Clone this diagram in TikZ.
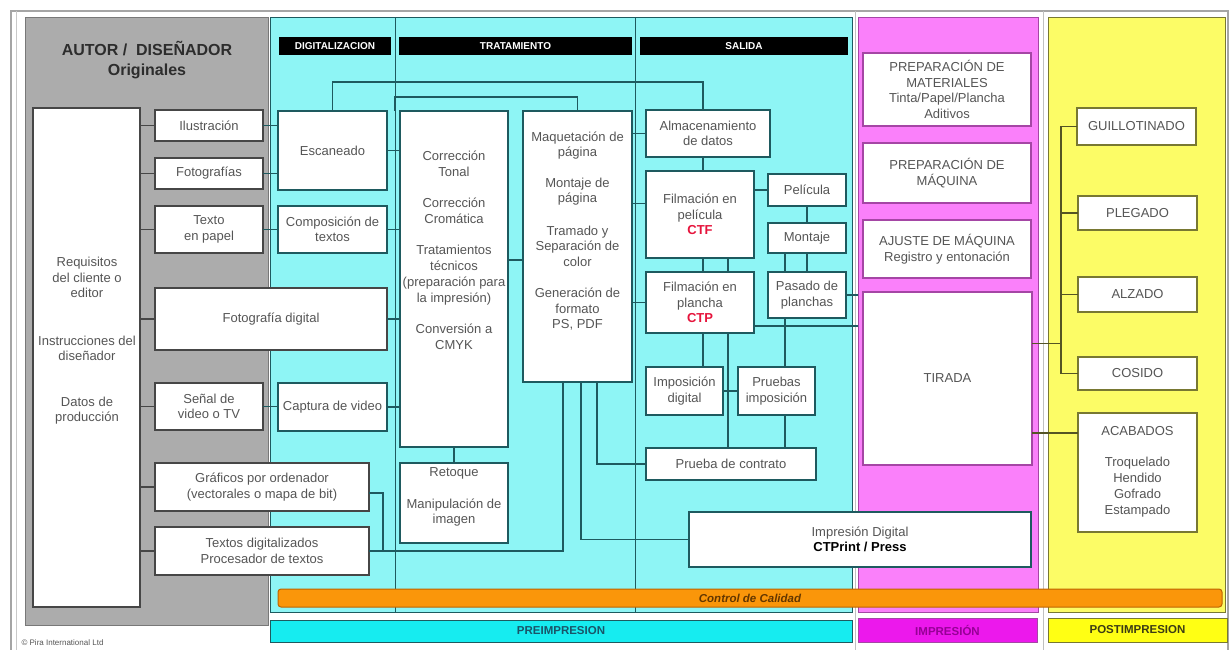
\documentclass[tikz,border=0pt]{standalone}
\usepackage{fontspec}
\setmainfont{Liberation Sans}
\usetikzlibrary{calc}

\definecolor{grayP}{RGB}{172,172,172}
\definecolor{grayB}{RGB}{120,120,120}
\definecolor{cyanP}{RGB}{142,245,245}
\definecolor{cyanB}{RGB}{22,236,240}
\definecolor{cyanT}{RGB}{25,85,105}
\definecolor{magP}{RGB}{250,128,250}
\definecolor{magB}{RGB}{236,24,236}
\definecolor{magL}{RGB}{165,70,165}
\definecolor{magT}{RGB}{150,0,150}
\definecolor{yelP}{RGB}{252,252,102}
\definecolor{yelB}{RGB}{255,255,20}
\definecolor{yelL}{RGB}{120,120,50}
\definecolor{yelT}{RGB}{60,60,20}
\definecolor{orgB}{RGB}{250,150,10}
\definecolor{orgL}{RGB}{190,100,0}
\definecolor{orgT}{RGB}{100,55,0}
\definecolor{lineC}{RGB}{30,90,95}
\definecolor{lineG}{RGB}{70,70,70}
\definecolor{txt}{RGB}{85,85,85}
\definecolor{titleC}{RGB}{45,45,45}
\definecolor{ctred}{RGB}{230,20,60}
\definecolor{frameC}{RGB}{165,165,165}

% box given by its two corners: style, x1, y1, x2, y2, name
\newcommand\boxat[6]{\node[#1,minimum width={#4-#2},minimum height={#5-#3}] (#6) at ({(#2+#4)/2},{(#3+#5)/2})}

\begin{document}
\begin{tikzpicture}[x=1pt,y=-1pt,
  tx/.style={font=\fontsize{13}{15.5}\selectfont,text=txt,align=center},
  txw/.style={font=\fontsize{13}{16}\selectfont,text=txt,align=center},
  box/.style={tx,draw,fill=white,line width=1.1pt,inner sep=0pt,outer sep=0pt},
  gbox/.style={box,draw=lineG},
  cbox/.style={box,draw=lineC},
  mbox/.style={box,draw=magL},
  ybox/.style={box,draw=yelL},
  panel/.style={draw,line width=1pt,inner sep=0pt,outer sep=0pt},
  hdr/.style={fill=black,text=white,inner sep=0pt,font=\fontsize{10}{12}\selectfont\bfseries},
  tag/.style={draw,line width=1pt,inner sep=0pt,font=\fontsize{11.5}{13}\selectfont\bfseries},
  cc/.style={draw=lineC,line width=1.1pt},
  gc/.style={draw=lineG,line width=1.1pt},
  yc/.style={draw=yelL!70!black,line width=1.1pt}
]
\useasboundingbox (0,0) rectangle (1229,650);
\fill[white] (0,0) rectangle (1229,650);

% outer frame and column rules
\draw[frameC,line width=1.2pt] (11,11) rectangle (1228,660);
\draw[frameC!60,line width=0.8pt] (16,11) -- (16,650);
\draw[frameC!70,line width=0.8pt] (855,11) -- (855,650);
\draw[frameC!70,line width=0.8pt] (1043,11) -- (1043,650);

% stage panels
\boxat{panel,draw=grayB,fill=grayP}{25}{18}{268}{625}{pG}{};
\boxat{panel,draw=lineC,fill=cyanP}{270}{18}{852}{612}{pC}{};
\boxat{panel,draw=magL,fill=magP}{858}{18}{1038}{612}{pM}{};
\boxat{panel,draw=yelL,fill=yelP}{1048}{18}{1225}{612}{pY}{};

% column rules inside the prepress panel
\draw[lineC,line width=0.6pt] (395,18) -- (395,612);
\draw[lineC,line width=0.6pt] (635,18) -- (635,612);

% title of the first column
\node[font=\fontsize{16}{20}\selectfont\bfseries,text=titleC,align=center] (title) at (147,60) {AUTOR /\ \ DISEÑADOR\\Originales};

% black column headers
\boxat{hdr}{279}{37}{391}{55}{hdig}{DIGITALIZACION};
\boxat{hdr}{399}{37}{632}{55}{htra}{TRATAMIENTO};
\boxat{hdr}{640}{37}{848}{55}{hsal}{SALIDA};

% originals
\boxat{gbox,line width=1.4pt}{33}{108}{140}{607}{req}{};
\node[tx] (reqtxt) at (87,341) {Requisitos\\del cliente o\\editor\\[32pt]Instrucciones del\\diseñador\\[30pt]Datos de\\producción};
\boxat{gbox}{155}{110}{263}{141}{ilus}{Ilustración};
\boxat{gbox}{155}{158}{263}{189}{foto}{Fotografías};
\boxat{gbox}{155}{206}{263}{253}{texto}{Texto\\en papel};
\boxat{gbox}{155}{288}{387}{350}{fdig}{Fotografía digital};
\boxat{gbox}{155}{383}{263}{430}{senal}{Señal de\\video o TV};
\boxat{gbox}{155}{463}{369}{511}{graf}{Gráficos por ordenador\\(vectorales o mapa de bit)};
\boxat{gbox}{155}{527}{369}{575}{tdig}{Textos digitalizados\\Procesador de textos};

% digitisation
\boxat{cbox}{278}{111}{387}{190}{esc}{Escaneado};
\boxat{cbox}{278}{206}{387}{253}{comp}{Composición de\\textos};
\boxat{cbox}{278}{383}{387}{431}{capt}{Captura de video};

% treatment
\boxat{cbox}{400}{111}{508}{447}{corr}{};
\node[txw] (corrtxt) at (454,250) {Corrección\\Tonal\\[15pt]Corrección\\Cromática\\[15pt]Tratamientos\\técnicos\\(preparación para\\la impresión)\\[15pt]Conversión a\\CMYK};
\boxat{cbox}{400}{463}{508}{543}{ret}{};
\node[tx] (rettxt) at (454,497) {Retoque\\[16pt]Manipulación de\\imagen};
\boxat{cbox}{523}{111}{632}{382}{maq}{};
\node[tx] (maqtxt) at (577.5,231) {Maquetación de\\página\\[15pt]Montaje de\\página\\[17pt]Tramado y\\Separación de\\color\\[16pt]Generación de\\formato\\PS, PDF};

% output
\boxat{cbox}{646}{110}{770}{157}{alm}{Almacenamiento\\de datos};
\boxat{cbox}{646}{171}{754}{258}{fpel}{Filmación en\\película\\{\color{ctred}\bfseries CTF}};
\boxat{cbox}{768}{174}{846}{206}{pel}{Película};
\boxat{cbox}{768}{223}{846}{253}{mont}{Montaje};
\boxat{cbox}{646}{272}{754}{333}{fpla}{Filmación en\\plancha\\{\color{ctred}\bfseries CTP}};
\boxat{cbox}{768}{272}{846}{318}{pas}{Pasado de\\planchas};
\boxat{cbox}{646}{367}{723}{415}{impd}{Imposición\\digital};
\boxat{cbox}{738}{367}{815}{415}{pimp}{Pruebas\\imposición};
\boxat{cbox}{646}{448}{816}{480}{pcon}{Prueba de contrato};
\boxat{cbox}{689}{512}{1031}{567}{idig}{Impresión Digital\\{\color{black}\bfseries CTPrint / Press}};

% printing
\boxat{mbox}{863}{53}{1031}{126}{pmat}{PREPARACIÓN DE\\MATERIALES\\Tinta/Papel/Plancha\\Aditivos};
\boxat{mbox}{863}{143}{1031}{203}{pmaq}{PREPARACIÓN DE\\MÁQUINA};
\boxat{mbox}{863}{220}{1031}{278}{ajus}{AJUSTE DE MÁQUINA\\Registro y entonación};
\boxat{mbox}{863}{292}{1032}{465}{tir}{TIRADA};

% finishing
\boxat{ybox}{1077}{108}{1196}{145}{gui}{GUILLOTINADO};
\boxat{ybox}{1078}{196}{1197}{230}{ple}{PLEGADO};
\boxat{ybox}{1078}{277}{1197}{312}{alz}{ALZADO};
\boxat{ybox}{1078}{357}{1197}{390}{cos}{COSIDO};
\boxat{ybox}{1078}{413}{1197}{532}{aca}{};
\node[txw] (acatxt) at (1137.5,471.5) {ACABADOS\\[15pt]Troquelado\\Hendido\\Gofrado\\Estampado};

% quality control band and stage labels
\boxat{tag,draw=orgL,fill=orgB,text=orgT,rounded corners=3pt,font=\fontsize{11.5}{13}\selectfont\bfseries\itshape}{278}{589}{1222}{607}{cal}{Control de Calidad};
\boxat{tag,draw=lineC,fill=cyanB,text=cyanT}{270}{620}{852}{642}{bpre}{PREIMPRESION};
\boxat{tag,draw=magL,fill=magB,text=magT}{858}{618}{1037}{642}{bimp}{IMPRESIÓN};
\boxat{tag,draw=yelL,fill=yelB,text=yelT}{1048}{618}{1227}{642}{bpost}{POSTIMPRESION};

\node[font=\fontsize{8}{9}\selectfont,text=txt,anchor=west] (copy) at (18,643) {© Pira International Ltd};

% connectors: originals
\foreach \b in {ilus,foto,texto,fdig,senal,graf,tdig}
  \draw[gc] (\b.west) -- (req.east |- \b.west);

% connectors: originals to digitisation and treatment
\draw[cc] (ilus.east) -- (esc.west |- ilus.east);
\draw[cc] (foto.east) -- (esc.west |- foto.east);
\draw[cc] (texto.east) -- (comp.west |- texto.east);
\draw[cc] (senal.east) -- (capt.west |- senal.east);
\draw[cc] (esc.east) -- (corr.west |- esc.east);
\draw[cc] (comp.east) -- (corr.west |- comp.east);
\draw[cc] (fdig.east) -- (corr.west |- fdig.east);
\draw[cc] (capt.east) -- (corr.west |- capt.east);
\draw[cc] (corr.south) -- (ret.north);
\coordinate (c1) at ([yshift=19pt]corr.east);
\draw[cc] (c1) -- (maq.west |- c1);

% top runs
\draw[cc] (esc.north) -- ++(0,-29) -| ([xshift=-5pt]alm.north);
\draw[cc] (maq.north) -- ++(0,-14) -| ([xshift=-5pt]corr.north west);

% layout to output
\draw[cc] (alm.west) -- (maq.east |- alm.west);
\coordinate (c2) at ([yshift=11pt]fpel.west);
\draw[cc] (c2) -- (maq.east |- c2);
\draw[cc] (fpla.west) -- (maq.east |- fpla.west);
\draw[cc] (tdig.east) -| ([xshift=-14.5pt]maq.south);
\draw[cc] ([yshift=-6pt]graf.east) -| ([xshift=14pt]tdig.east);
\draw[cc] ([xshift=3.5pt]maq.south) |- (idig.west);
\draw[cc] ([xshift=19.5pt]maq.south) |- (pcon.west);

% output column
\coordinate (a1) at ([xshift=-5pt]alm.south);
\draw[cc] (a1) -- (a1 |- fpel.north);
\draw[cc] (pel.west) -- (fpel.east |- pel.west);
\draw[cc] (pel.south) -- (mont.north);
\coordinate (a2) at ([xshift=3pt]fpel.south);
\coordinate (a3) at ([xshift=28pt]fpel.south);
\draw[cc] (a2) -- (a2 |- fpla.north);
\draw[cc] (a3) -- (a3 |- fpla.north);
\coordinate (a4) at ([xshift=-22pt]mont.south);
\draw[cc] (a4) -- (a4 |- pas.north);
\draw[cc] (mont.south) -- (pas.north);
\draw[cc] (pas.east) -- (pas.east -| pM.west);
\coordinate (a5) at ([yshift=-23.5pt]fpla.east);
\draw[cc] (a5) -- (a5 -| pM.west);
\coordinate (a6) at ([xshift=3pt]fpla.south);
\draw[cc] (a6) -- (a6 |- impd.north);
\coordinate (a7) at ([xshift=28pt]fpla.south);
\draw[cc] (a7) -- (a7 |- pcon.north);
\draw[cc] (impd.east) -- (pimp.west);
\coordinate (a8) at ([xshift=-22pt]pas.south);
\draw[cc] (a8) -- (a8 |- pimp.north);
\coordinate (a9) at (a8 |- pimp.south);
\draw[cc] (a9) -- (a9 |- pcon.north);

% printing to finishing
\coordinate (bus) at ([xshift=-16pt]gui.west);
\draw[yc] (gui.west) -- (bus) -- (bus |- cos.west) -- (cos.west);
\draw[yc] (ple.west) -- (bus |- ple.west);
\draw[yc] (alz.west) -- (bus |- alz.west);
\coordinate (t1) at ([yshift=35pt]tir.east);
\draw[yc] (t1) -- (bus |- t1);
\coordinate (t2) at ([yshift=-54.5pt]tir.east);
\draw[yc] (t2) -- (aca.west |- t2);
\end{tikzpicture}
\end{document}
